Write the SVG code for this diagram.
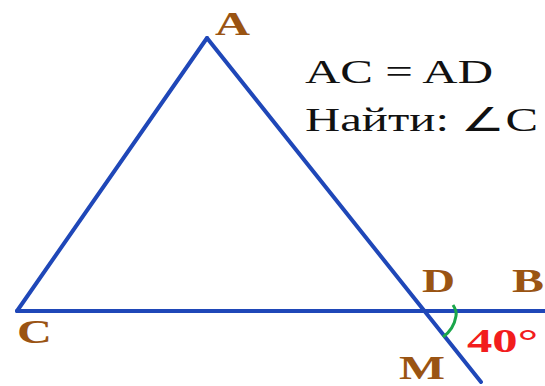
<svg xmlns="http://www.w3.org/2000/svg" width="545" height="386" viewBox="0 0 545 386">
<style>
.ln{stroke:#1f47b8;stroke-width:4;fill:none;stroke-linecap:round;stroke-linejoin:round}
.lbl{font-family:"Liberation Serif",serif;font-weight:bold;font-size:34px;fill:#9a5413}
.txt{font-family:"Liberation Serif",serif;font-size:33px;fill:#111}
</style>
<rect width="545" height="386" fill="#fff"/>
<g id="connectors">
<path class="ln" d="M17,311 L207,38"/>
<path class="ln" d="M207,38 L481,382"/>
<path class="ln" d="M17,311 L545,311"/>
<path d="M453,305 Q457,311 456,316 A32,32 0 0 1 443,337" stroke="#1aa64a" stroke-width="3" fill="none"/>
</g>
<g id="A"><text class="lbl" x="215" y="35" textLength="35" lengthAdjust="spacingAndGlyphs">A</text></g>
<g id="C"><text class="lbl" x="17" y="343" textLength="35" lengthAdjust="spacingAndGlyphs">C</text></g>
<g id="D"><text class="lbl" x="422" y="292" textLength="33" lengthAdjust="spacingAndGlyphs">D</text></g>
<g id="B"><text class="lbl" x="512" y="292" textLength="32" lengthAdjust="spacingAndGlyphs">B</text></g>
<g id="M"><text class="lbl" x="399" y="379" font-size="32" textLength="46" lengthAdjust="spacingAndGlyphs">M</text></g>
<g id="angle"><text x="467" y="352" font-family="Liberation Serif,serif" font-weight="bold" font-size="34" fill="#f21d1d" textLength="71" lengthAdjust="spacingAndGlyphs">40°</text></g>
<g id="given">
<text class="txt" x="305" y="83" textLength="188" lengthAdjust="spacingAndGlyphs">AC = AD</text>
<text class="txt" x="305" y="131" textLength="233" lengthAdjust="spacingAndGlyphs">Найти: ∠C</text>
</g>
</svg>
